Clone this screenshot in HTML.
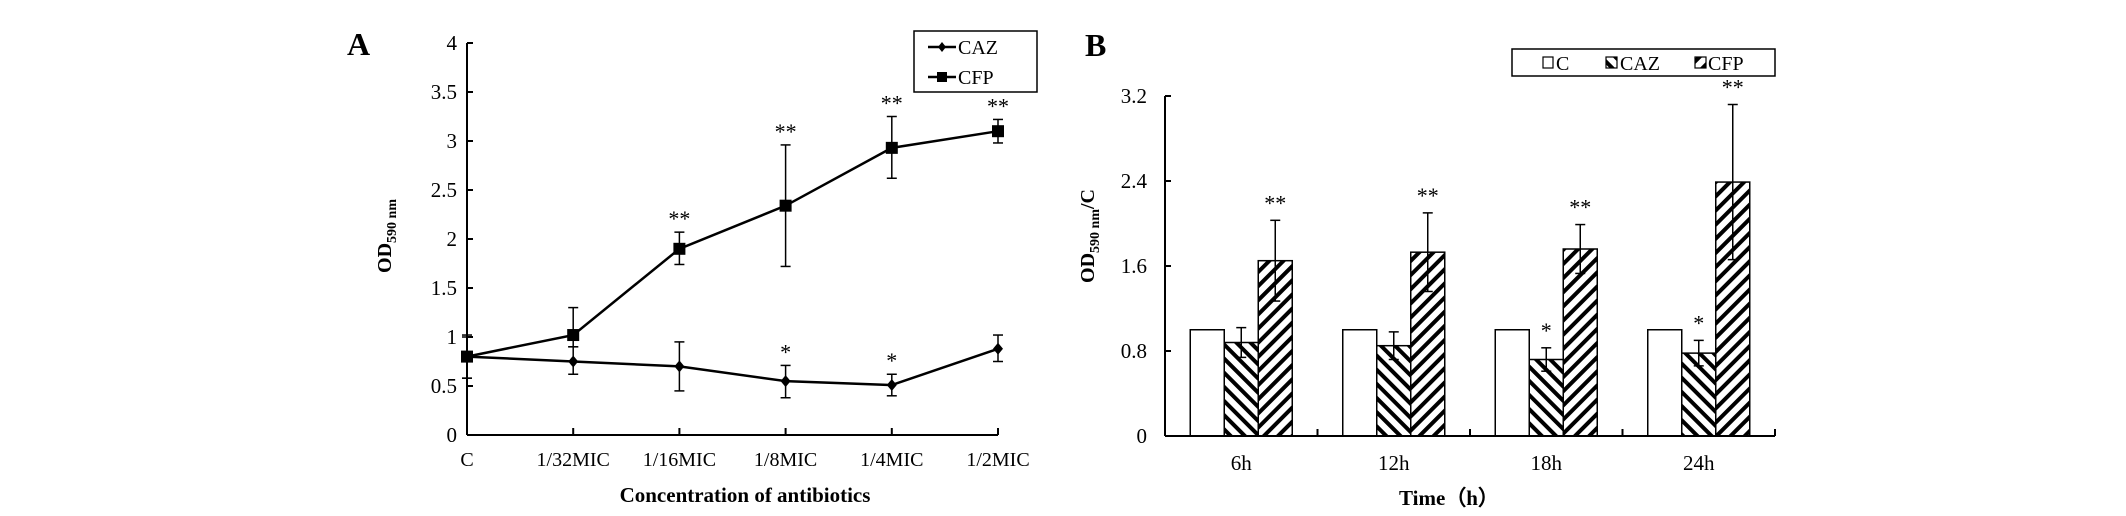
<!DOCTYPE html>
<html><head><meta charset="utf-8"><style>
html,body{margin:0;padding:0;background:#fff;}
svg{display:block;font-family:"Liberation Serif",serif;}
</style></head><body>
<svg id="fig" width="2126" height="516" viewBox="0 0 2126 516" xmlns="http://www.w3.org/2000/svg">
<defs>
<pattern id="hatchCAZ" patternUnits="userSpaceOnUse" width="10" height="10" patternTransform="rotate(-45)">
<rect width="10" height="10" fill="#fff"/><rect x="0" y="0" width="4" height="10" fill="#000"/></pattern>
<pattern id="hatchCFP" patternUnits="userSpaceOnUse" width="10" height="10" patternTransform="rotate(45)">
<rect width="10" height="10" fill="#fff"/><rect x="0" y="0" width="4" height="10" fill="#000"/></pattern>
</defs>
<g id="chartA"></g>
<g id="chartB"></g>
</svg>
<script>
// ---- Chart A data ----
const catsA = ["C","1/32MIC","1/16MIC","1/8MIC","1/4MIC","1/2MIC"];
const cazVals = [0.80,0.75,0.70,0.55,0.51,0.88];
const cazLo = [0.58,0.62,0.45,0.38,0.40,0.75];
const cazHi = [1.02,0.90,0.95,0.71,0.62,1.02];
const cfpVals = [0.80,1.02,1.90,2.34,2.93,3.10];
const cfpLo = [0.58,0.90,1.74,1.72,2.62,2.98];
const cfpHi = [1.00,1.30,2.07,2.96,3.25,3.22];
const cazStars = ["","","","*","*",""];
const cfpStars = ["","","**","**","**","**"];
const ticksA = [0,0.5,1,1.5,2,2.5,3,3.5,4];
const tickLabelsA = ["0","0.5","1","1.5","2","2.5","3","3.5","4"];
// ---- Chart B data ----
const catsB = ["6h","12h","18h","24h"];
const cVals = [1.0,1.0,1.0,1.0];
const cazB = [0.88,0.85,0.72,0.78];
const cazBErr = [0.14,0.13,0.11,0.12];
const cfpB = [1.65,1.73,1.76,2.39];
const cfpBErr = [0.38,0.37,0.23,0.73];
const cazBStars = ["","","*","*"];
const cfpBStars = ["**","**","**","**"];
const ticksB = [0,0.8,1.6,2.4,3.2];
const tickLabelsB = ["0","0.8","1.6","2.4","3.2"];

const NS="http://www.w3.org/2000/svg";
function mk(parent,tag,attrs,text){const e=document.createElementNS(NS,tag);for(const k in attrs)e.setAttribute(k,attrs[k]);if(text!==undefined)e.textContent=text;parent.appendChild(e);return e;}

// ===== Chart A =====
const A=document.getElementById('chartA');
const ax0=467, ax1=998, ay0=435, ay1=43;
const yA=v=>ay0-(v/4)*(ay0-ay1);
const xA=i=>ax0+i*(ax1-ax0)/(catsA.length-1);
let t;
t=mk(A,'text',{x:347,y:55,'font-size':32,'font-weight':'bold'},'A');


let l=mk(A,'line',{x1:ax0,y1:ay1,x2:ax0,y2:ay0,stroke:'#000','stroke-width':2});


l=mk(A,'line',{x1:ax0,y1:ay0,x2:ax1,y2:ay0,stroke:'#000','stroke-width':2});


ticksA.forEach((v,i)=>{
  mk(A,'line',{x1:ax0,y1:yA(v),x2:ax0+6,y2:yA(v),stroke:'#000','stroke-width':2});
  const tt=mk(A,'text',{x:ax0-10,y:yA(v)+7,'font-size':21,'text-anchor':'end'},tickLabelsA[i]);
  
  
});
catsA.forEach((c,i)=>{
  if(i>0) mk(A,'line',{x1:xA(i),y1:ay0,x2:xA(i),y2:ay0-7,stroke:'#000','stroke-width':2});
  const tt=mk(A,'text',{x:xA(i),y:466,'font-size':20,'text-anchor':'middle'},c);
  
  
});
t=mk(A,'text',{x:745,y:502,'font-size':21,'font-weight':'bold','text-anchor':'middle'},'Concentration of antibiotics');


t=mk(A,'text',{transform:'translate(391,236) rotate(-90)','font-size':20,'font-weight':'bold','text-anchor':'middle'});


t.innerHTML='OD<tspan font-size="14" dy="5">590 nm</tspan>';
function drawSeries(vals,lo,hi,stars,marker,name){
  const g=mk(A,'g',{});
  
  
  mk(g,'polyline',{points:vals.map((v,i)=>xA(i)+','+yA(v)).join(' '),fill:'none',stroke:'#000','stroke-width':2.5});
  vals.forEach((v,i)=>{
    const x=xA(i);
    mk(g,'line',{x1:x,y1:yA(lo[i]),x2:x,y2:yA(hi[i]),stroke:'#000','stroke-width':1.5});
    mk(g,'line',{x1:x-5,y1:yA(lo[i]),x2:x+5,y2:yA(lo[i]),stroke:'#000','stroke-width':1.5});
    mk(g,'line',{x1:x-5,y1:yA(hi[i]),x2:x+5,y2:yA(hi[i]),stroke:'#000','stroke-width':1.5});
    let m;
    if(marker==='sq') m=mk(g,'rect',{x:x-6,y:yA(v)-6,width:12,height:12,fill:'#000'});
    else m=mk(g,'polygon',{points:`${x},${yA(v)-6} ${x+5},${yA(v)} ${x},${yA(v)+6} ${x-5},${yA(v)}`,fill:'#000'});
    
    
    if(stars[i]){
      const s=mk(g,'text',{x:x,y:yA(hi[i])-6,'font-size':22,'text-anchor':'middle'},stars[i]);
      
      
    }
  });
}
drawSeries(cazVals,cazLo,cazHi,cazStars,'di','caz');
drawSeries(cfpVals,cfpLo,cfpHi,cfpStars,'sq','cfp');
// legend A
const lgA=mk(A,'g',{});


mk(lgA,'rect',{x:914,y:31,width:123,height:61,fill:'#fff',stroke:'#000','stroke-width':1.5});
mk(lgA,'line',{x1:928,y1:47,x2:956,y2:47,stroke:'#000','stroke-width':2.5});
mk(lgA,'polygon',{points:'942,42 946,47 942,52 938,47',fill:'#000'});
t=mk(lgA,'text',{x:958,y:54,'font-size':20},'CAZ');


mk(lgA,'line',{x1:928,y1:77,x2:956,y2:77,stroke:'#000','stroke-width':2.5});
mk(lgA,'rect',{x:937,y:72,width:10,height:10,fill:'#000'});
t=mk(lgA,'text',{x:958,y:84,'font-size':20},'CFP');



// ===== Chart B =====
const B=document.getElementById('chartB');
const bx0=1165, bx1=1775, by0=436, by1=96;
const yB=v=>by0-(v/3.2)*(by0-by1);
const gw=(bx1-bx0)/catsB.length, bw=34, off=(gw-3*bw)/2;
t=mk(B,'text',{x:1085,y:56,'font-size':32,'font-weight':'bold'},'B');


ticksB.forEach((v,i)=>{
  mk(B,'line',{x1:bx0,y1:yB(v),x2:bx0+6,y2:yB(v),stroke:'#000','stroke-width':2});
  const tt=mk(B,'text',{x:bx0-18,y:yB(v)+7,'font-size':21,'text-anchor':'end'},tickLabelsB[i]);
  
  
});
catsB.forEach((c,i)=>{
  const gx=bx0+i*gw;
  mk(B,'line',{x1:gx+gw,y1:by0,x2:gx+gw,y2:by0-7,stroke:'#000','stroke-width':2});
  const vals=[cVals[i],cazB[i],cfpB[i]], fills=['#fff','url(#hatchCAZ)','url(#hatchCFP)'], nm=['bar-c','bar-caz','bar-cfp'];
  vals.forEach((v,k)=>{
    const r=mk(B,'rect',{x:gx+off+k*bw,y:yB(v),width:bw,height:by0-yB(v),fill:fills[k],stroke:'#000','stroke-width':1.5});
    
    
  });
  const errs=[[cazB[i],cazBErr[i],cazBStars[i]],[cfpB[i],cfpBErr[i],cfpBStars[i]]];
  errs.forEach((e,k)=>{
    const x=gx+off+(k+1.5)*bw;
    mk(B,'line',{x1:x,y1:yB(e[0]-e[1]),x2:x,y2:yB(e[0]+e[1]),stroke:'#000','stroke-width':1.5});
    mk(B,'line',{x1:x-5,y1:yB(e[0]+e[1]),x2:x+5,y2:yB(e[0]+e[1]),stroke:'#000','stroke-width':1.5});
    mk(B,'line',{x1:x-5,y1:yB(e[0]-e[1]),x2:x+5,y2:yB(e[0]-e[1]),stroke:'#000','stroke-width':1.5});
    if(e[2]){
      const s=mk(B,'text',{x:x,y:yB(e[0]+e[1])-10,'font-size':22,'text-anchor':'middle'},e[2]);
      
      
    }
  });
  const tt=mk(B,'text',{x:gx+gw/2,y:470,'font-size':21,'text-anchor':'middle'},c);
  
  
});
l=mk(B,'line',{x1:bx0,y1:by1,x2:bx0,y2:by0,stroke:'#000','stroke-width':2});


l=mk(B,'line',{x1:bx0,y1:by0,x2:bx1,y2:by0,stroke:'#000','stroke-width':2});


t=mk(B,'text',{x:1449,y:505,'font-size':21,'font-weight':'bold','text-anchor':'middle'},'Time（h）');


t=mk(B,'text',{transform:'translate(1094,236) rotate(-90)','font-size':20,'font-weight':'bold','text-anchor':'middle'});


t.innerHTML='OD<tspan font-size="14" dy="5">590 nm</tspan><tspan dy="-5">/C</tspan>';
// legend B
const lgB=mk(B,'g',{});


mk(lgB,'rect',{x:1512,y:49,width:263,height:27,fill:'#fff',stroke:'#000','stroke-width':1.5});
mk(lgB,'rect',{x:1543,y:57,width:10,height:11,fill:'#fff',stroke:'#000','stroke-width':1.2});
t=mk(lgB,'text',{x:1556,y:70,'font-size':20},'C');


mk(lgB,'rect',{x:1606,y:57,width:11,height:11,fill:'url(#hatchCAZ)',stroke:'#000','stroke-width':1.2});
t=mk(lgB,'text',{x:1620,y:70,'font-size':20},'CAZ');


mk(lgB,'rect',{x:1695,y:57,width:11,height:11,fill:'url(#hatchCFP)',stroke:'#000','stroke-width':1.2});
t=mk(lgB,'text',{x:1708,y:70,'font-size':20},'CFP');


</script>
</body></html>
